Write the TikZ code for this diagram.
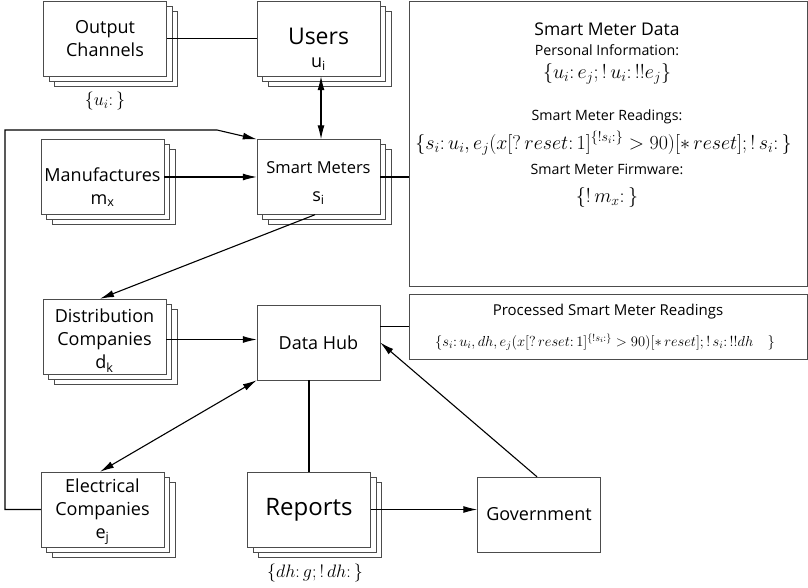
\RequirePackage{fix-cm}
\documentclass[tikz,border=0pt]{standalone}
\usepackage{fontspec}
\setmainfont{Open Sans}
\usetikzlibrary{positioning,arrows.meta}

\tikzset{
  card/.style={draw=black!70, fill=white, minimum width=123pt, minimum height=75pt, inner sep=0pt},
  cardtext/.style={align=center, inner sep=0pt, font=\fontsize{18}{23}\selectfont},
  panel/.style={draw=black!70, fill=white, minimum width=398pt, inner sep=0pt},
  paneltext/.style={inner sep=0pt},
  link/.style={line width=1.1pt, >={Latex[length=14pt,width=7pt]}},
  lbl/.style={inner sep=1pt, font=\fontsize{18}{20}\selectfont}
}

% stacked card: [text drop], name, centre, text
\newcommand{\stackcard}[4][0pt]{%
  \node[card, xshift=11pt, yshift=-10pt] at (#3) {};
  \node[card, xshift=5.5pt, yshift=-5pt] at (#3) {};
  \node[card] (#2) at (#3) {};
  \node[cardtext, yshift=-#1] (#2-text) at (#3) {#4};
}

\begin{document}
\begin{tikzpicture}[x=1pt,y=-1pt]
  \useasboundingbox (0,0) rectangle (808,588);

  % left column and middle column
  \stackcard{out}{105,38.5}{Output\\Channels}
  \stackcard[11pt]{users}{318.5,38.5}{{\fontsize{23}{26}\selectfont Users}\\u\textsubscript{i}}
  \stackcard[10pt]{man}{102.5,177}{Manufactures\\m\textsubscript{x}}
  \stackcard[6pt]{sm}{318.5,177}{{\fontsize{16.5}{20}\selectfont Smart Meters}\\[5pt]s\textsubscript{i}}
  \stackcard[4pt]{dist}{104.5,336.5}{Distribution\\Companies\\d\textsubscript{k}}
  \node[card] (hub) at (318.5,342.5) {};
  \node[cardtext] (hub-text) at (hub) {Data Hub};
  \stackcard[2pt]{elec}{102.5,509.5}{Electrical\\Companies\\e\textsubscript{j}}
  \stackcard{rep}{309,509.5}{\fontsize{24}{26}\selectfont Reports}
  \node[card] (gov) at (539,514.5) {};
  \node[cardtext] (gov-text) at (gov) {Government};

  \node[lbl] (outset) at (105,101) {$\{u_i\colon\}$};
  \node[lbl] (repset) at (315,573) {$\{dh\colon g;!\,dh\colon\}$};

  % data panels
  \node[panel, minimum height=285pt] (data) at (608,143.5) {};
  \node[paneltext] (datatitle) at (607,29) {\fontsize{17.5}{20}\selectfont Smart Meter Data};
  \node[paneltext] (pers) at (607,50) {\fontsize{14.2}{16}\selectfont Personal Information:};
  \node[paneltext] (persset) at (607,74) {\fontsize{20}{22}\selectfont $\{u_i\colon e_j;!\,u_i\colon !!e_j\}$};
  \node[paneltext] (read) at (607,117) {\fontsize{14.2}{16}\selectfont Smart Meter Readings:};
  \node[paneltext] (readset) at (603.5,143) {\fontsize{20}{22}\selectfont $\{s_i\colon u_i,e_j\bigl(x[?\,reset\colon 1]^{\{!s_i\colon\}}>90\bigr)[*\,reset];!\,s_i\colon\}$};
  \node[paneltext] (firm) at (607,169) {\fontsize{14.2}{16}\selectfont Smart Meter Firmware:};
  \node[paneltext] (firmset) at (607,197) {\fontsize{20}{22}\selectfont $\{!\,m_x\colon\}$};

  \node[panel, minimum height=65pt] (proc) at (608,326.5) {};
  \node[paneltext] (proctitle) at (608,312) {\fontsize{15}{17}\selectfont Processed Smart Meter Readings};
  \node[paneltext] (procset) at (605,342) {\fontsize{14.5}{17}\selectfont $\{s_i\colon u_i,dh,e_j\bigl(x[?\,reset\colon 1]^{\{!s_i\colon\}}>90\bigr)[*\,reset];!\,s_i\colon !!dh\quad\}$};

  % connectors
  \coordinate (loopL) at (5,130);
  \coordinate (bend) at (217,130);
  \draw[link] (out.east) -- (users.west);
  \draw[link,<->] ([xshift=2.5pt]users.south) -- ([xshift=2.5pt]sm.north);
  \draw[link,->] (man.east) -- (sm.west);
  \draw[link,->] (elec.west) -| (loopL) -- (bend) -- (sm.north west);
  \draw[link,->] ([xshift=-3.5pt]sm.south) -- ([xshift=-4.5pt]dist.north);
  \draw[link] (sm.east) -- (sm.east -| data.west);
  \draw[link,->] ([yshift=-3pt]dist.east) -- ([yshift=-3pt]dist.east -| hub.west);
  \draw[link,<->] ([xshift=-2.5pt]elec.north) -- (hub.south west);
  \draw[link] (proc.west -| hub.east) -- (proc.west);
  \draw[link] (rep.north |- hub.south) -- (rep.north);
  \draw[link,->] (rep.east) -- (rep.east -| gov.west);
  \draw[link,->] ([xshift=-2pt]gov.north) -- (hub.east);
\end{tikzpicture}
\end{document}
